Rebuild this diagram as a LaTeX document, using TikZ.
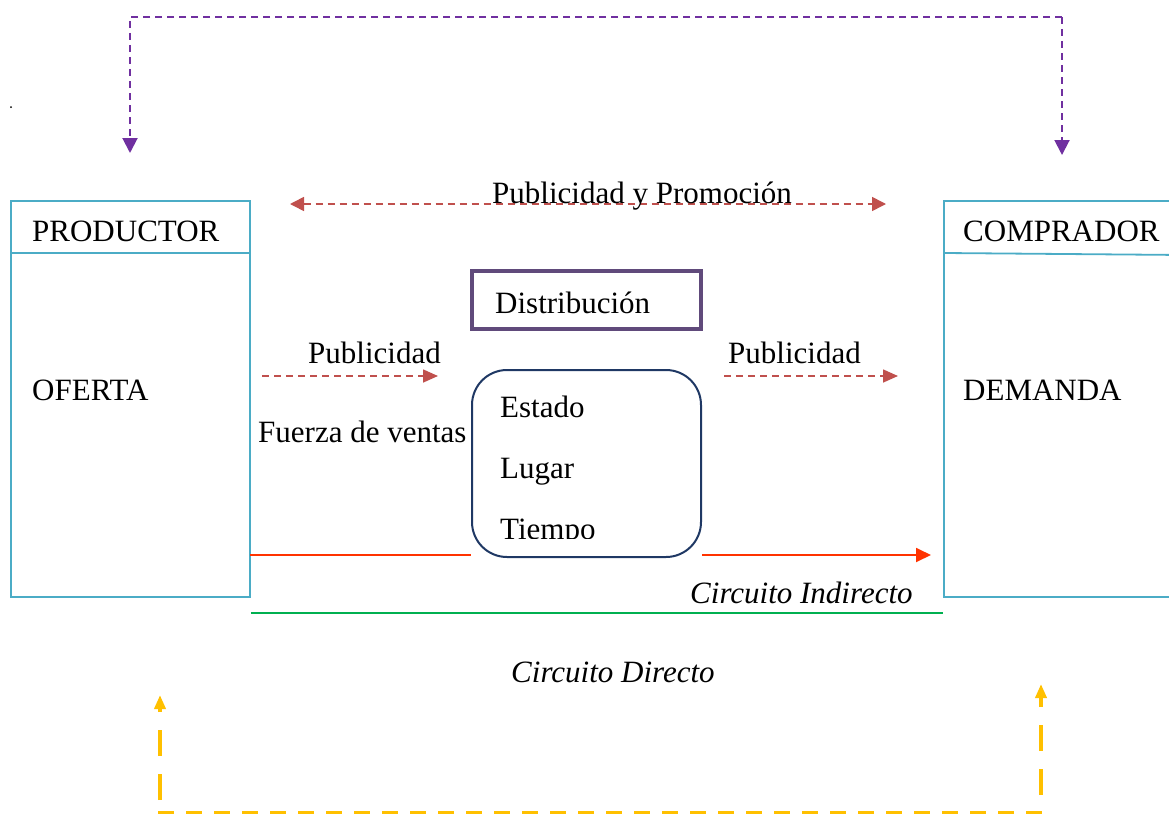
\documentclass[tikz,border=0pt]{standalone}
\usepackage{fontspec}
\setmainfont{Liberation Serif}
\usetikzlibrary{arrows.meta}
\definecolor{cajaazul}{HTML}{4BACC6}
\definecolor{morado}{HTML}{7030A0}
\definecolor{violeta}{HTML}{604A7B}
\definecolor{rojopub}{HTML}{C0504D}
\definecolor{azuloscuro}{HTML}{1F3864}
\definecolor{rojocirc}{HTML}{FF3300}
\definecolor{verde}{HTML}{00B050}
\definecolor{amarillo}{HTML}{FFC000}
\tikzset{
  txt/.style={anchor=base west,inner sep=0pt,font=\fontsize{31}{36}\selectfont},
  caja/.style={draw=cajaazul,line width=1.8pt,inner sep=0pt},
  pub/.style={draw=rojopub,line width=1.6pt,dash pattern=on 7pt off 5pt},
  retorno/.style={draw=morado,line width=2pt,dash pattern=on 7pt off 5pt},
  origen/.style={draw=amarillo,line width=3.5pt},
}
\begin{document}
\begin{tikzpicture}[x=1pt,y=-1pt]
\useasboundingbox (0,0) rectangle (1169,816);
%\draw[step=100,gray,very thin] (0,0) grid (1169,816);
\fill (11,107) circle (1pt);
%.............................
\node[caja,minimum width=239pt,minimum height=396pt] (productor) at (130.5,399) {};
\draw[cajaazul,line width=1.8pt] (11,253)--(250,253);
\node[txt] (prodtxt) at (32,241) {PRODUCTOR};
\node[txt] (oferta) at (32,400) {OFERTA};
%.............................
\node[caja,minimum width=240pt,minimum height=396pt] (comprador) at (1064,399) {};
\draw[cajaazul,line width=1.8pt] (944,253)--(1184,255);
\node[txt] (comptxt) at (963,241) {COMPRADOR};
\node[txt] (demanda) at (963,400) {DEMANDA};
%.............................
\coordinate (retA) at (130,153);
\coordinate (retB) at (1062,155);
\draw[retorno,-{Triangle[length=15pt,width=15pt]}] (1062,17) -- (retB);
\draw[retorno,-{Triangle[length=15pt,width=15pt]}] (1062,17) -- (130,17) -- (retA);
%.............................
\coordinate (promA) at (290,204);
\coordinate (promB) at (886,204);
\draw[pub,{Triangle[length=14pt,width=14pt]}-{Triangle[length=14pt,width=14pt]}] (promA) -- (promB);
\node[txt] (promo) at (492,203) {Publicidad y Promoción};
%.............................
\node[draw=violeta,line width=4.5pt,minimum width=229pt,minimum height=58pt,inner sep=0pt] (distrib) at (586.5,300) {};
\node[txt] (distxt) at (495,313) {Distribución};
%.............................
\node[draw=azuloscuro,line width=2pt,rounded corners=35pt,minimum width=229pt,minimum height=187pt,inner sep=0pt] (lugares) at (586.5,463.5) {};
\node[txt] (estado) at (500,417) {Estado};
\node[txt] (lugar) at (500,478) {Lugar};
\begin{scope}
\clip (480,500) rectangle (690,538);
\node[txt] (tiempo) at (500,539) {Tiempo};
\end{scope}
%.............................
\node[txt] (pub1) at (308,363) {Publicidad};
\coordinate (pubA) at (262,376);
\coordinate (pubB) at (438,376);
\draw[pub,-{Triangle[length=15pt,width=13pt]}] (pubA) -- (pubB);
\node[txt] (pub2) at (728,363) {Publicidad};
\coordinate (pubC) at (724,376);
\coordinate (pubD) at (898,376);
\draw[pub,-{Triangle[length=15pt,width=13pt]}] (pubC) -- (pubD);
\node[txt] (fuerza) at (258,442) {Fuerza de ventas};
%.............................
\coordinate (indA) at (250,555);
\coordinate (indB) at (931,555);
\draw[rojocirc,line width=1.8pt] (indA) -- (lugares.west |- indA);
\draw[rojocirc,line width=1.8pt,-{Triangle[length=15pt,width=14pt]}] (lugares.east |- indA) -- (indB);
\node[txt,font=\fontsize{31}{36}\selectfont\itshape] (indirecto) at (690,603) {Circuito Indirecto};
\draw[verde,line width=2.5pt] (productor.east |- 0,613) -- (comprador.west |- 0,613);
\node[txt,font=\fontsize{31}{36}\selectfont\itshape] (directo) at (511,682) {Circuito Directo};
%.............................
\coordinate (oriA) at (160,695);
\coordinate (oriB) at (1041,684);
\draw[origen,dash pattern=on 16pt off 12pt] (158,812.5) -- (1044,812.5);
\draw[origen,dash pattern=on 26pt off 18pt,-{Triangle[length=14pt,width=11pt]}] (160,800) -- (oriA);
\draw[origen,dash pattern=on 26pt off 18pt,-{Triangle[length=14pt,width=11pt]}] (1041,795) -- (oriB);
\end{tikzpicture}
\end{document}
